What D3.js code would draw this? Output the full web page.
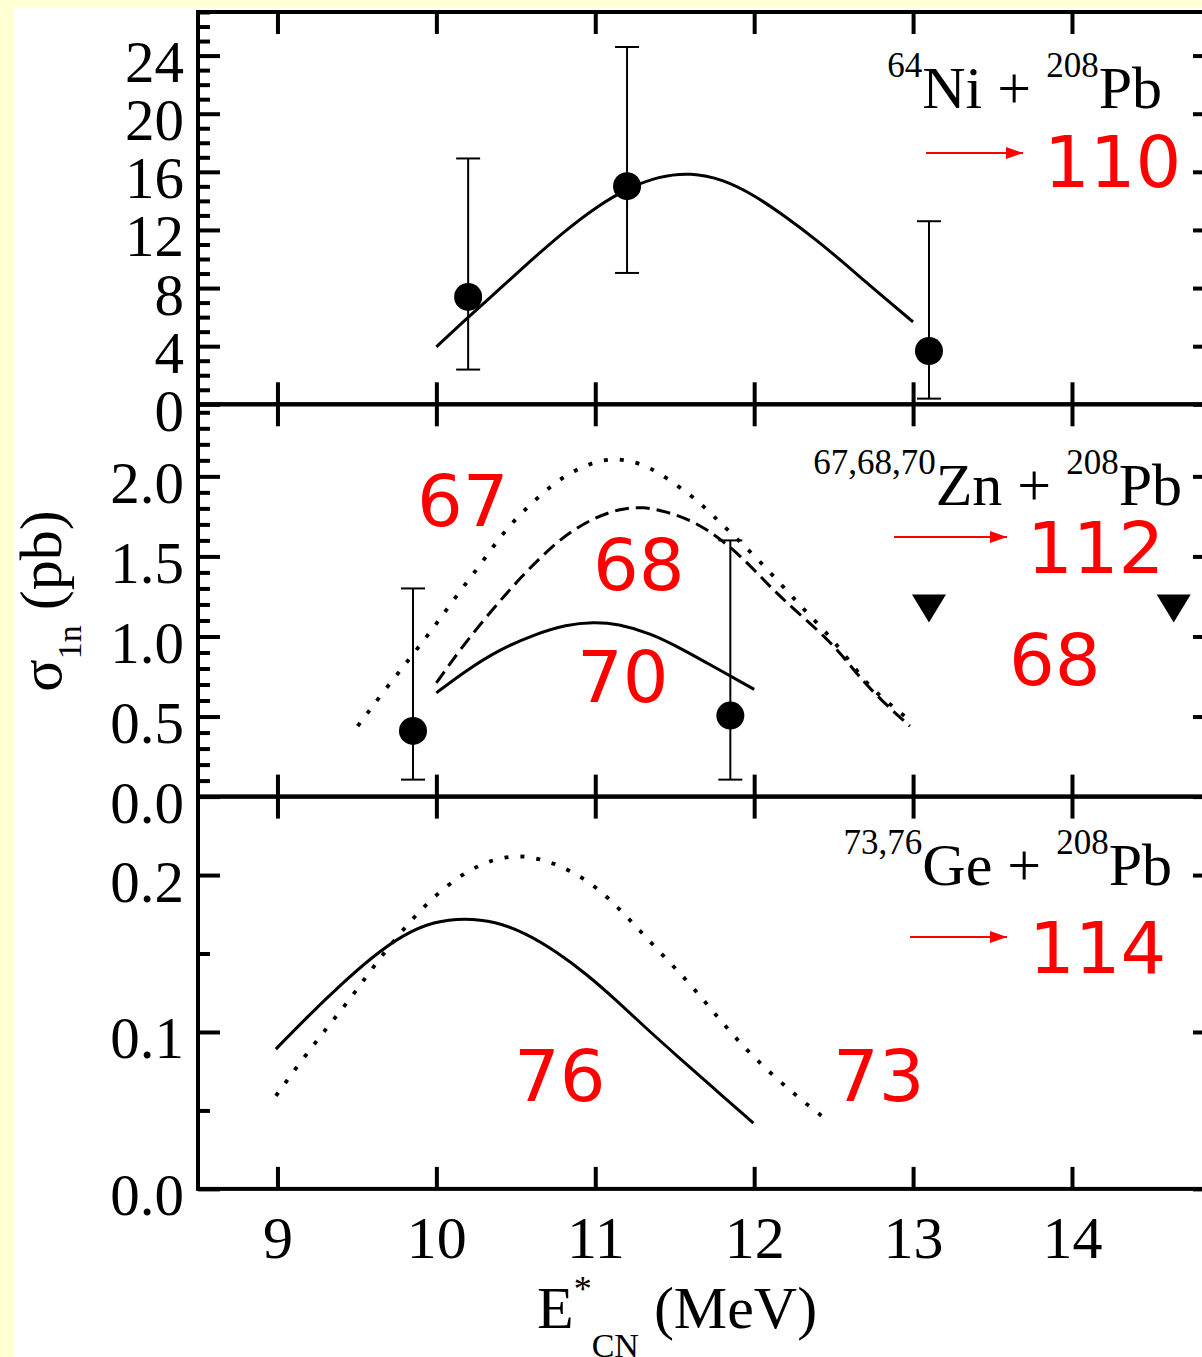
<!DOCTYPE html>
<html>
<head>
<meta charset="utf-8">
<script src="https://cdn.jsdelivr.net/npm/d3@7"></script>
<style>
    body { margin: 0; background: #ffffd4; }
    svg { display: block; }
    .tick text { font-family: "Liberation Serif", "Times New Roman", serif; }
</style>
</head>
<body>
<svg id="chart" width="1202" height="1357"></svg>
<script>
// ---- data (E*_CN in MeV, sigma_1n in pb) ----
let niCurve = [[10.0, 3.95], [10.2, 6.0], [10.4, 7.95], [10.6, 9.95], [10.8, 11.85], [11.0, 13.55],
    [11.2, 14.85], [11.4, 15.7], [11.6, 15.95], [11.8, 15.5], [12.0, 14.4], [12.2, 12.9], [12.4, 11.25],
    [12.6, 9.4], [12.8, 7.5], [13.0, 5.67]];
let niPoints = [
    {e: 10.2, s: 7.39, lo: 2.39, hi: 16.92},
    {e: 11.2, s: 15.01, lo: 9.04, hi: 24.59},
    {e: 13.1, s: 3.67, lo: 0.39, hi: 12.6}
];

let zn67Curve = [[9.505, 0.44], [9.669, 0.658], [9.836, 0.867], [9.983, 1.054], [10.13, 1.26], [10.287, 1.46],
    [10.434, 1.67], [10.633, 1.867], [10.822, 2.02], [11.031, 2.106], [11.18, 2.11], [11.346, 2.06],
    [11.535, 1.93], [11.66, 1.835], [11.765, 1.73], [12.04, 1.47], [12.29, 1.19], [12.48, 1.0],
    [12.62, 0.82], [12.73, 0.68], [12.9, 0.54], [13.0, 0.46]];
let zn68Curve = [[10.0, 0.71], [10.15, 0.92], [10.32, 1.13], [10.49, 1.325], [10.66, 1.5], [10.82, 1.64],
    [10.99, 1.74], [11.16, 1.8], [11.3, 1.81], [11.45, 1.78], [11.62, 1.72], [11.79, 1.61], [11.96, 1.46],
    [12.1, 1.31], [12.25, 1.17], [12.48, 0.97], [12.62, 0.8], [12.73, 0.67], [12.9, 0.51], [12.98, 0.44]];
let zn70Curve = [[10.0, 0.648], [10.19, 0.79], [10.4, 0.92], [10.61, 1.01], [10.82, 1.075], [10.99, 1.09],
    [11.14, 1.08], [11.35, 1.02], [11.55, 0.92], [11.765, 0.8], [12.0, 0.67]];
let znPoints = [
    {e: 9.853, s: 0.41, lo: 0.106, hi: 1.3},
    {e: 11.85, s: 0.506, lo: 0.106, hi: 1.6}
];
let znLimits = [[13.1, 1.175], [14.64, 1.175]];

let ge76Curve = [[8.99, 0.0891], [9.19, 0.1099], [9.41, 0.1312], [9.6, 0.1481], [9.79, 0.162], [9.985, 0.1705],
    [10.18, 0.1726], [10.37, 0.1705], [10.56, 0.1631], [10.755, 0.1513], [10.95, 0.1365], [11.14, 0.1195],
    [11.33, 0.1014], [11.53, 0.0834], [11.72, 0.0664], [11.995, 0.0419]];
let ge73Curve = [[8.99, 0.0593], [9.155, 0.0823], [9.31, 0.1025], [9.47, 0.1226], [9.62, 0.1439], [9.78, 0.1641],
    [9.96, 0.1843], [10.165, 0.2013], [10.37, 0.2109], [10.56, 0.213], [10.78, 0.2066], [10.995, 0.1939],
    [11.19, 0.1747], [11.38, 0.1535], [11.575, 0.1333], [11.74, 0.1131], [11.91, 0.0929], [12.1, 0.0738],
    [12.32, 0.0547], [12.43, 0.0461]];

let xTicks = [9, 10, 11, 12, 13, 14];
let niTicks = [0, 4, 8, 12, 16, 20, 24];
let znTicks = [0, 0.5, 1.0, 1.5, 2.0];
let geTicks = [0, 0.1, 0.2];

// ---- layout ----
let svg = d3.select("#chart");
let left = 198, right = 1215, top0 = 12, panelH = 392.3;

svg.append("rect").attr("x", 14).attr("y", 8).attr("width", 1202).attr("height", 1357).attr("fill", "#fff");

let x = d3.scaleLinear().domain([8.5, 14.9]).range([left, right]);

let defs = svg.append("defs");
defs.append("marker")
    .attr("id", "arrow")
    .attr("markerUnits", "userSpaceOnUse")
    .attr("viewBox", "0 0 17 12")
    .attr("refX", 17).attr("refY", 6)
    .attr("markerWidth", 17).attr("markerHeight", 12)
    .attr("orient", "auto")
    .append("path").attr("d", "M0,0L17,6L0,12Z").attr("fill", "#ff0000");

let panels = [
    {
        domain: [0, 27], ticks: niTicks, minor: d3.range(0, 27.01, 1), fmt: d3.format("d"),
        curves: [{data: niCurve, dash: null}],
        points: niPoints, limits: [],
        title: [["64", true], ["Ni + ", false], ["208", true], ["Pb", false]], titleX: 1162, titleY: 108,
        reds: [["110", 1044, 187]], arrow: [926, 1023, 153]
    },
    {
        domain: [0, 2.45], ticks: znTicks, minor: d3.range(0, 2.45, 0.1), fmt: d3.format(".1f"),
        curves: [{data: zn67Curve, dash: "4,12"}, {data: zn68Curve, dash: "14,7"}, {data: zn70Curve, dash: null}],
        points: znPoints, limits: znLimits,
        title: [["67,68,70", true], ["Zn + ", false], ["208", true], ["Pb", false]], titleX: 1182, titleY: 505,
        reds: [["67", 417, 526], ["68", 593, 590], ["70", 577, 702], ["112", 1027, 573], ["68", 1009, 685]],
        arrow: [894, 1007, 537]
    },
    {
        domain: [0, 0.25], ticks: geTicks, minor: d3.range(0, 0.25, 0.05), fmt: d3.format(".1f"),
        curves: [{data: ge73Curve, dash: "4,12"}, {data: ge76Curve, dash: null}],
        points: [], limits: [],
        title: [["73,76", true], ["Ge + ", false], ["208", true], ["Pb", false]], titleX: 1172, titleY: 885,
        reds: [["76", 514, 1101], ["73", 833, 1101], ["114", 1029, 973]],
        arrow: [910, 1007, 937]
    }
];

panels.forEach(function (p, i) {
    let y0 = top0 + i * panelH, y1 = y0 + panelH;
    let y = d3.scaleLinear().domain(p.domain).range([y1, y0]);
    let g = svg.append("g");

    // inward ticks on all four sides
    let addAxis = (axis, tx, ty, labels) => {
        let a = g.append("g").attr("transform", "translate(" + tx + "," + ty + ")").call(axis);
        a.select(".domain").remove();
        a.selectAll("line").attr("stroke", "#000").attr("stroke-width", 4);
        if (!labels) a.selectAll("text").remove();
        return a;
    };
    let minorY = p.minor.filter(v => !p.ticks.some(t => Math.abs(t - v) < 1e-6));
    addAxis(d3.axisLeft(y).tickValues(minorY).tickSize(-12).tickFormat(""), left, 0, false);
    addAxis(d3.axisRight(y).tickValues(minorY).tickSize(-12).tickFormat(""), right, 0, false);
    addAxis(d3.axisRight(y).tickValues(p.ticks).tickSize(-22).tickFormat(""), right, 0, false);
    let yl = addAxis(d3.axisLeft(y).tickValues(p.ticks).tickSize(-22).tickPadding(14).tickFormat(p.fmt), left, 0, true);
    yl.selectAll("text").attr("font-size", 59).attr("dy", "0.44em").attr("fill", "#000");
    addAxis(d3.axisTop(x).tickValues(xTicks).tickSize(-22).tickFormat(""), 0, y0, false);
    let xb = addAxis(d3.axisBottom(x).tickValues(xTicks).tickSize(-22).tickPadding(27).tickFormat(d3.format("d")),
        0, y1, i === 2);
    xb.selectAll("text").attr("font-size", 60).attr("fill", "#000");

    g.append("rect")
        .attr("x", left).attr("y", y0).attr("width", right - left).attr("height", panelH)
        .attr("fill", "none").attr("stroke", "#000").attr("stroke-width", 4);

    let line = d3.line().x(d => x(d[0])).y(d => y(d[1])).curve(d3.curveBasis);
    p.curves.forEach(c => {
        g.append("path").datum(c.data)
            .attr("d", line)
            .attr("fill", "none").attr("stroke", "#000")
            .attr("stroke-width", c.dash === "4,12" ? 3.8 : 3)
            .attr("stroke-dasharray", c.dash);
    });

    let pts = g.selectAll(".pt").data(p.points).enter().append("g").attr("class", "pt");
    pts.append("line").attr("x1", d => x(d.e)).attr("x2", d => x(d.e))
        .attr("y1", d => y(d.lo)).attr("y2", d => y(d.hi))
        .attr("stroke", "#000").attr("stroke-width", 2);
    [d => d.lo, d => d.hi].forEach(f => {
        pts.append("line").attr("x1", d => x(d.e) - 12).attr("x2", d => x(d.e) + 12)
            .attr("y1", d => y(f(d))).attr("y2", d => y(f(d)))
            .attr("stroke", "#000").attr("stroke-width", 2);
    });
    pts.append("circle").attr("cx", d => x(d.e)).attr("cy", d => y(d.s)).attr("r", 14).attr("fill", "#000");

    g.selectAll(".lim").data(p.limits).enter().append("path")
        .attr("d", d => "M" + (x(d[0]) - 17) + "," + (y(d[1]) - 14) + "L" + (x(d[0]) + 17) + "," + (y(d[1]) - 14)
            + "L" + x(d[0]) + "," + (y(d[1]) + 14) + "Z")
        .attr("fill", "#000");

    // reaction label with superscripts
    let t = g.append("text")
        .attr("x", p.titleX).attr("y", p.titleY)
        .attr("text-anchor", "end")
        .attr("font-family", "'Liberation Serif', 'Times New Roman', serif")
        .attr("font-size", 60);
    let raised = false;
    p.title.forEach(part => {
        let dy = part[1] === raised ? 0 : (part[1] ? -31 : 31);
        raised = part[1];
        t.append("tspan").attr("dy", dy).attr("font-size", part[1] ? 35 : 60).text(part[0]);
    });

    p.reds.forEach(r => {
        g.append("text").attr("x", r[1]).attr("y", r[2])
            .attr("font-family", "'DejaVu Sans', Verdana, sans-serif")
            .attr("font-size", 72).attr("fill", "#ff0000").text(r[0]);
    });
    g.append("line")
        .attr("x1", p.arrow[0]).attr("x2", p.arrow[1]).attr("y1", p.arrow[2]).attr("y2", p.arrow[2])
        .attr("stroke", "#ff0000").attr("stroke-width", 2)
        .attr("marker-end", "url(#arrow)");
});

// axis titles
let yTitle = svg.append("text")
    .attr("transform", "translate(61,601) rotate(-90)")
    .attr("text-anchor", "middle")
    .attr("font-family", "'Liberation Serif', 'Times New Roman', serif")
    .attr("font-size", 60);
yTitle.append("tspan").text("σ");
yTitle.append("tspan").attr("font-size", 34).attr("dy", 20).text("1n");
yTitle.append("tspan").attr("dy", -20).text(" (pb)");

let xTitle = svg.append("text")
    .attr("x", 537).attr("y", 1328)
    .attr("font-family", "'Liberation Serif', 'Times New Roman', serif")
    .attr("font-size", 60);
xTitle.append("tspan").text("E");
xTitle.append("tspan").attr("font-size", 36).attr("dy", -27).text("*");
xTitle.append("tspan").attr("font-size", 34).attr("dy", 56).text("CN");
xTitle.append("tspan").attr("dy", -29).text(" (MeV)");
</script>
</body>
</html>
